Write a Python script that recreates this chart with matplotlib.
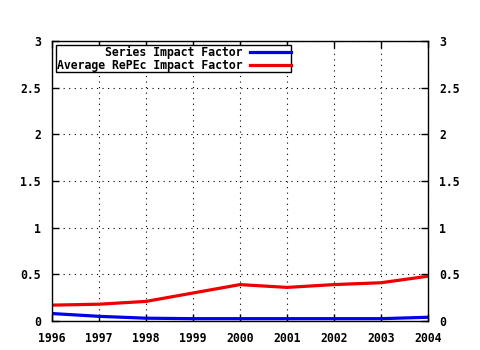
import matplotlib
matplotlib.use('Agg')
import matplotlib.pyplot as plt

years = [1996, 1997, 1998, 1999, 2000, 2001, 2002, 2003, 2004]
series_if = [0.08, 0.05, 0.03, 0.025, 0.025, 0.025, 0.025, 0.025, 0.04]
repec_if = [0.17, 0.18, 0.21, 0.30, 0.39, 0.36, 0.39, 0.41, 0.48]

plt.rcParams['font.family'] = 'DejaVu Sans Mono'
plt.rcParams['font.weight'] = 'bold'
plt.rcParams['font.size'] = 8.3

fig = plt.figure(figsize=(4.8, 3.5), dpi=100)
ax = fig.add_axes([52/480, 29/350, 376/480, 280/350])

ax.plot(years, series_if, color='#0000ee', lw=2.3, label='Series Impact Factor')
ax.plot(years, repec_if, color='#ee0000', lw=2.3, label='Average RePEc Impact Factor')

ax.set_xlim(1996, 2004)
ax.set_ylim(0, 3)
ax.set_xticks(years)
ax.set_yticks([0, 0.5, 1, 1.5, 2, 2.5, 3])
ax.set_yticklabels(['0', '0.5', '1', '1.5', '2', '2.5', '3'])
ax.grid(True, color='black', linestyle=(0, (1, 4)), lw=0.8)
ax.tick_params(direction='in', length=5, width=1, top=True, right=True,
               labelright=True, pad=8)
for s in ax.spines.values():
    s.set_linewidth(1)

leg = ax.legend(loc='upper left', markerfirst=False, fancybox=False,
                edgecolor='black', framealpha=1, handlelength=3.5,
                borderpad=0.05, labelspacing=0.0, borderaxespad=0.35,
                handletextpad=0.7)
leg.get_frame().set_linewidth(1)

fig.savefig('out.png', dpi=100)
